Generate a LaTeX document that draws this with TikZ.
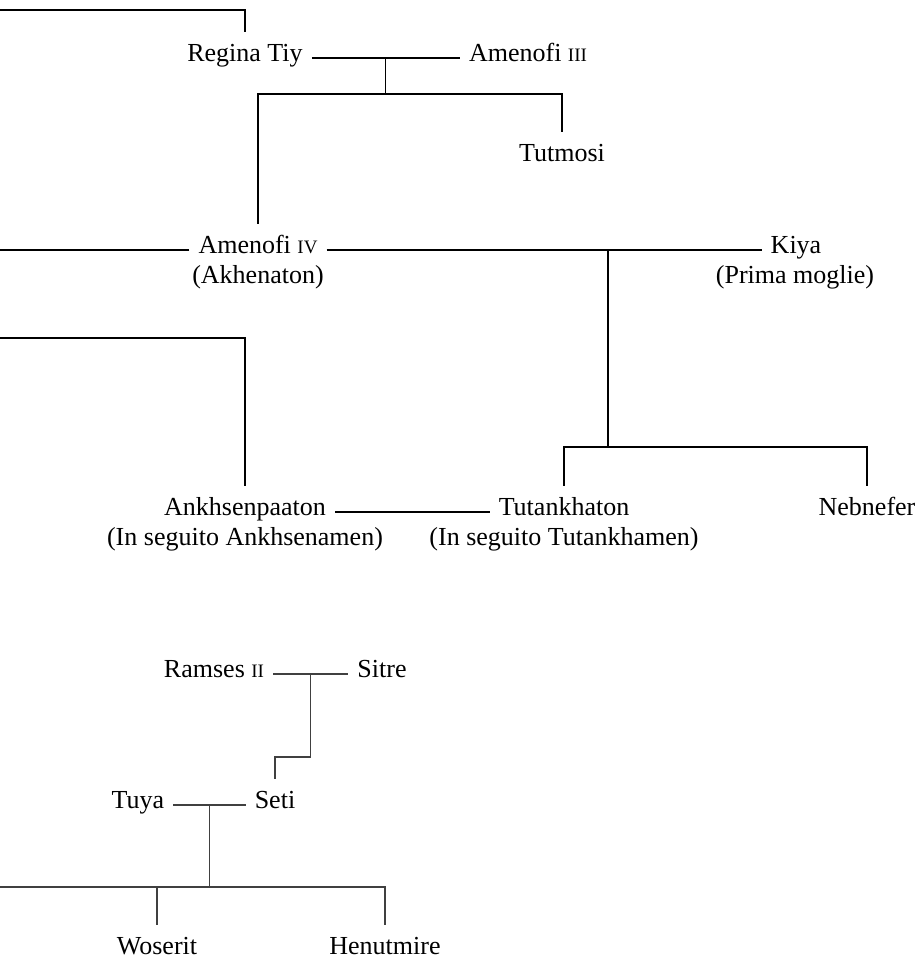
\documentclass[tikz,border=0pt]{standalone}
\usepackage{fontspec}
\setmainfont{Liberation Serif}

\newcommand{\FTgap}{9pt}
\newcommand{\FTrise}{3pt}
\newcommand{\regnal}[1]{{\fontsize{19}{22}\selectfont #1}}

\begin{document}
\begin{tikzpicture}[x=1pt,y=-1pt,
	font=\fontsize{26}{30}\selectfont,
	person/.style={anchor=base,inner xsep=\FTgap,inner ysep=11pt,text height=18pt},
	note/.style={anchor=base,inner sep=0pt},
	wire/.style={line width=1.2pt},
	wirelow/.style={line width=1.4pt,draw=black!75}]

	\useasboundingbox (0,0) rectangle (924,962);

	%The people
	\node[person] (tiy) at (245,61) {Regina Tiy};
	\node[person] (amIII) at (528,61) {Amenofi \regnal{III}};
	\node[person] (tutmosi) at (562,161) {Tutmosi};
	\node[person] (amIV) at (258,253) {Amenofi \regnal{IV}};
	\node[note] (akhenaton) at (258,283) {(Akhenaton)};
	\node[person] (kiya) at (796,253) {Kiya};
	\node[note] (prima) at (795,283) {(Prima moglie)};
	\node[person] (ankh) at (245,515) {Ankhsenpaaton};
	\node[note] (ankhnote) at (245,545) {(In seguito Ankhsenamen)};
	\node[person] (tutankh) at (564,515) {Tutankhaton};
	\node[note] (tutnote) at (564,545) {(In seguito Tutankhamen)};
	\node[person] (nebnefer) at (867,515) {Nebnefer};

	%The lines coming in from the left
	\coordinate (offA) at (0,10);
	\coordinate (offB) at (0,0);
	\coordinate (offC) at (0,338);
	\draw[wire] (offA) -| (tiy.north);
	\draw[wire] ([yshift=\FTrise]amIV.base west) -- ([yshift=\FTrise]amIV.base west -| offB);
	\draw[wire] (offC) -| (ankh.north);

	%Tiy and Amenofi III with their sons
	\coordinate (barA) at (0,94);
	\draw[wire] ([yshift=\FTrise]tiy.base east) -- coordinate[midway] (tiyam) ([yshift=\FTrise]amIII.base west);
	\draw[wire] (tiyam) -- (tiyam |- barA);
	\draw[wire] (amIV.north) |- (tutmosi.north |- barA) -- (tutmosi.north);

	%Amenofi IV and Kiya
	\coordinate (barB) at (0,447);
	\draw[wire] ([yshift=\FTrise]amIV.base east) -- coordinate[pos=.647] (amkiya) ([yshift=\FTrise]kiya.base west);
	\draw[wire] (amkiya) -- (amkiya |- barB);
	\draw[wire] (tutankh.north) |- (nebnefer.north |- barB) -- (nebnefer.north);

	%Ankhsenpaaton and Tutankhaton
	\draw[wire] ([yshift=\FTrise]ankh.base east) -- ([yshift=\FTrise]tutankh.base west);

	%The second tree
	\node[person] (ramses) at (214,677) {Ramses \regnal{II}};
	\node[person] (sitre) at (382,677) {Sitre};
	\node[person] (tuya) at (138,808) {Tuya};
	\node[person] (seti) at (275,808) {Seti};
	\node[person] (woserit) at (157,954) {Woserit};
	\node[person] (henut) at (385,954) {Henutmire};

	\coordinate (stepA) at (0,757);
	\coordinate (barC) at (0,887);
	\draw[wirelow] ([yshift=\FTrise]ramses.base east) -- coordinate[midway] (ramsitre) ([yshift=\FTrise]sitre.base west);
	\draw[wirelow] (ramsitre) |- (seti.north |- stepA) -- (seti.north);
	\draw[wirelow] ([yshift=\FTrise]tuya.base east) -- coordinate[midway] (tuyaseti) ([yshift=\FTrise]seti.base west);
	\draw[wirelow] (tuyaseti) -- (tuyaseti |- barC);
	\draw[wirelow] (barC) -| (henut.north);
	\draw[wirelow] (woserit.north) -- (woserit.north |- barC);

\end{tikzpicture}
\end{document}
